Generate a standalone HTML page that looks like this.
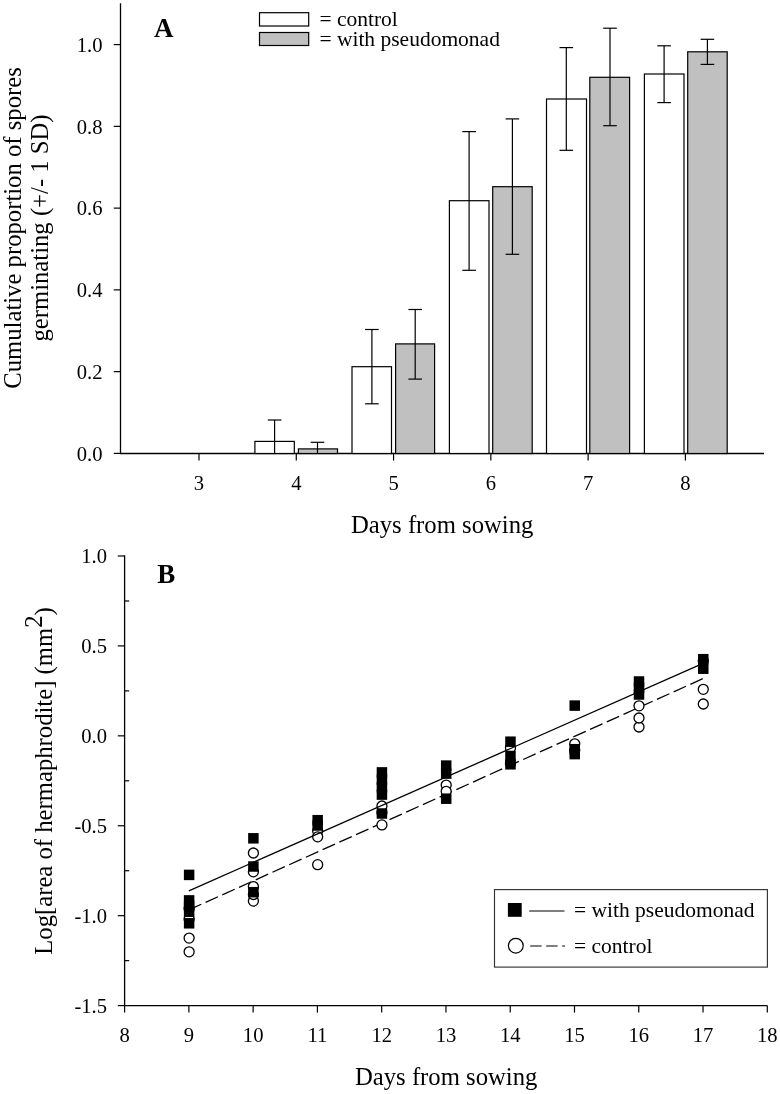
<!DOCTYPE html>
<html><head><meta charset="utf-8"><style>
html,body{margin:0;padding:0;background:#fff;}
svg{display:block;will-change:transform;}
text{font-family:"Liberation Serif", serif;fill:#000;}
.tk{font-size:20.6px;}
.lg{font-size:21.5px;}
.ti{font-size:24.7px;}
.pl{font-size:27px;font-weight:bold;}
</style></head><body>
<svg width="780" height="1094" viewBox="0 0 780 1094">
<rect width="780" height="1094" fill="#fff"/>
<line x1="120.5" y1="3.2" x2="120.5" y2="454.1" stroke="#000" stroke-width="1.3"/>
<line x1="119.9" y1="453.5" x2="764" y2="453.5" stroke="#000" stroke-width="1.4"/>
<line x1="113.8" y1="453.40" x2="120.5" y2="453.40" stroke="#000" stroke-width="1.2"/>
<text x="102.5" y="460.60" text-anchor="end" class="tk">0.0</text>
<line x1="113.8" y1="371.64" x2="120.5" y2="371.64" stroke="#000" stroke-width="1.2"/>
<text x="102.5" y="378.84" text-anchor="end" class="tk">0.2</text>
<line x1="113.8" y1="289.88" x2="120.5" y2="289.88" stroke="#000" stroke-width="1.2"/>
<text x="102.5" y="297.08" text-anchor="end" class="tk">0.4</text>
<line x1="113.8" y1="208.12" x2="120.5" y2="208.12" stroke="#000" stroke-width="1.2"/>
<text x="102.5" y="215.32" text-anchor="end" class="tk">0.6</text>
<line x1="113.8" y1="126.36" x2="120.5" y2="126.36" stroke="#000" stroke-width="1.2"/>
<text x="102.5" y="133.56" text-anchor="end" class="tk">0.8</text>
<line x1="113.8" y1="44.60" x2="120.5" y2="44.60" stroke="#000" stroke-width="1.2"/>
<text x="102.5" y="51.80" text-anchor="end" class="tk">1.0</text>
<line x1="199.00" y1="453.5" x2="199.00" y2="460.6" stroke="#000" stroke-width="1.2"/>
<text x="199.00" y="489.8" text-anchor="middle" class="tk">3</text>
<line x1="296.28" y1="453.5" x2="296.28" y2="460.6" stroke="#000" stroke-width="1.2"/>
<text x="296.28" y="489.8" text-anchor="middle" class="tk">4</text>
<line x1="393.56" y1="453.5" x2="393.56" y2="460.6" stroke="#000" stroke-width="1.2"/>
<text x="393.56" y="489.8" text-anchor="middle" class="tk">5</text>
<line x1="490.84" y1="453.5" x2="490.84" y2="460.6" stroke="#000" stroke-width="1.2"/>
<text x="490.84" y="489.8" text-anchor="middle" class="tk">6</text>
<line x1="588.12" y1="453.5" x2="588.12" y2="460.6" stroke="#000" stroke-width="1.2"/>
<text x="588.12" y="489.8" text-anchor="middle" class="tk">7</text>
<line x1="685.40" y1="453.5" x2="685.40" y2="460.6" stroke="#000" stroke-width="1.2"/>
<text x="685.40" y="489.8" text-anchor="middle" class="tk">8</text>
<rect x="254.90" y="441.40" width="39.40" height="12.10" fill="#fff" stroke="#000" stroke-width="1.2"/>
<rect x="298.40" y="448.90" width="39.10" height="4.60" fill="#c0c0c0" stroke="#000" stroke-width="1.2"/>
<rect x="352.00" y="366.70" width="39.50" height="86.80" fill="#fff" stroke="#000" stroke-width="1.2"/>
<rect x="395.60" y="343.90" width="39.00" height="109.60" fill="#c0c0c0" stroke="#000" stroke-width="1.2"/>
<rect x="449.40" y="200.70" width="39.60" height="252.80" fill="#fff" stroke="#000" stroke-width="1.2"/>
<rect x="492.70" y="186.70" width="39.50" height="266.80" fill="#c0c0c0" stroke="#000" stroke-width="1.2"/>
<rect x="546.50" y="99.00" width="40.00" height="354.50" fill="#fff" stroke="#000" stroke-width="1.2"/>
<rect x="589.80" y="77.30" width="39.80" height="376.20" fill="#c0c0c0" stroke="#000" stroke-width="1.2"/>
<rect x="644.40" y="74.00" width="39.60" height="379.50" fill="#fff" stroke="#000" stroke-width="1.2"/>
<rect x="687.70" y="51.80" width="39.50" height="401.70" fill="#c0c0c0" stroke="#000" stroke-width="1.2"/>
<line x1="274.60" y1="420.00" x2="274.60" y2="453.50" stroke="#000" stroke-width="1.2"/>
<line x1="267.80" y1="420.00" x2="281.40" y2="420.00" stroke="#000" stroke-width="1.2"/>
<line x1="317.50" y1="442.30" x2="317.50" y2="453.50" stroke="#000" stroke-width="1.2"/>
<line x1="310.70" y1="442.30" x2="324.30" y2="442.30" stroke="#000" stroke-width="1.2"/>
<line x1="371.90" y1="329.50" x2="371.90" y2="403.80" stroke="#000" stroke-width="1.2"/>
<line x1="365.10" y1="329.50" x2="378.70" y2="329.50" stroke="#000" stroke-width="1.2"/>
<line x1="365.10" y1="403.80" x2="378.70" y2="403.80" stroke="#000" stroke-width="1.2"/>
<line x1="415.20" y1="309.50" x2="415.20" y2="379.10" stroke="#000" stroke-width="1.2"/>
<line x1="408.40" y1="309.50" x2="422.00" y2="309.50" stroke="#000" stroke-width="1.2"/>
<line x1="408.40" y1="379.10" x2="422.00" y2="379.10" stroke="#000" stroke-width="1.2"/>
<line x1="469.10" y1="131.60" x2="469.10" y2="270.30" stroke="#000" stroke-width="1.2"/>
<line x1="462.30" y1="131.60" x2="475.90" y2="131.60" stroke="#000" stroke-width="1.2"/>
<line x1="462.30" y1="270.30" x2="475.90" y2="270.30" stroke="#000" stroke-width="1.2"/>
<line x1="512.40" y1="118.90" x2="512.40" y2="254.30" stroke="#000" stroke-width="1.2"/>
<line x1="505.60" y1="118.90" x2="519.20" y2="118.90" stroke="#000" stroke-width="1.2"/>
<line x1="505.60" y1="254.30" x2="519.20" y2="254.30" stroke="#000" stroke-width="1.2"/>
<line x1="566.30" y1="47.60" x2="566.30" y2="150.30" stroke="#000" stroke-width="1.2"/>
<line x1="559.50" y1="47.60" x2="573.10" y2="47.60" stroke="#000" stroke-width="1.2"/>
<line x1="559.50" y1="150.30" x2="573.10" y2="150.30" stroke="#000" stroke-width="1.2"/>
<line x1="610.00" y1="28.20" x2="610.00" y2="125.70" stroke="#000" stroke-width="1.2"/>
<line x1="603.20" y1="28.20" x2="616.80" y2="28.20" stroke="#000" stroke-width="1.2"/>
<line x1="603.20" y1="125.70" x2="616.80" y2="125.70" stroke="#000" stroke-width="1.2"/>
<line x1="664.10" y1="45.80" x2="664.10" y2="102.60" stroke="#000" stroke-width="1.2"/>
<line x1="657.30" y1="45.80" x2="670.90" y2="45.80" stroke="#000" stroke-width="1.2"/>
<line x1="657.30" y1="102.60" x2="670.90" y2="102.60" stroke="#000" stroke-width="1.2"/>
<line x1="707.40" y1="39.30" x2="707.40" y2="64.40" stroke="#000" stroke-width="1.2"/>
<line x1="700.60" y1="39.30" x2="714.20" y2="39.30" stroke="#000" stroke-width="1.2"/>
<line x1="700.60" y1="64.40" x2="714.20" y2="64.40" stroke="#000" stroke-width="1.2"/>
<rect x="259.5" y="12.7" width="49.2" height="13.3" fill="#fff" stroke="#000" stroke-width="1.2"/>
<rect x="259.5" y="32.5" width="49.2" height="13.0" fill="#c0c0c0" stroke="#000" stroke-width="1.2"/>
<text x="319.4" y="26.2" class="lg">= control</text>
<text x="319.4" y="45.5" class="lg">= with pseudomonad</text>
<text x="154" y="36.8" class="pl">A</text>
<text transform="translate(20.5,228) rotate(-90)" text-anchor="middle" class="ti">Cumulative proportion of spores</text>
<text transform="translate(48.3,228) rotate(-90)" text-anchor="middle" class="ti">germinating (+/- 1 SD)</text>
<text x="442.2" y="533.3" text-anchor="middle" class="ti">Days from sowing</text>
<line x1="124.6" y1="555.3" x2="124.6" y2="1006.2" stroke="#000" stroke-width="1.3"/>
<line x1="124.0" y1="1005.6" x2="767.3" y2="1005.6" stroke="#000" stroke-width="1.3"/>
<line x1="117.8" y1="556.00" x2="124.6" y2="556.00" stroke="#000" stroke-width="1.2"/>
<text x="107" y="563.20" text-anchor="end" class="tk">1.0</text>
<line x1="117.8" y1="645.92" x2="124.6" y2="645.92" stroke="#000" stroke-width="1.2"/>
<text x="107" y="653.12" text-anchor="end" class="tk">0.5</text>
<line x1="117.8" y1="735.84" x2="124.6" y2="735.84" stroke="#000" stroke-width="1.2"/>
<text x="107" y="743.04" text-anchor="end" class="tk">0.0</text>
<line x1="117.8" y1="825.76" x2="124.6" y2="825.76" stroke="#000" stroke-width="1.2"/>
<text x="107" y="832.96" text-anchor="end" class="tk">-0.5</text>
<line x1="117.8" y1="915.68" x2="124.6" y2="915.68" stroke="#000" stroke-width="1.2"/>
<text x="107" y="922.88" text-anchor="end" class="tk">-1.0</text>
<line x1="117.8" y1="1005.60" x2="124.6" y2="1005.60" stroke="#000" stroke-width="1.2"/>
<text x="107" y="1012.80" text-anchor="end" class="tk">-1.5</text>
<line x1="124.6" y1="600.96" x2="129.2" y2="600.96" stroke="#000" stroke-width="1.2"/>
<line x1="124.6" y1="690.88" x2="129.2" y2="690.88" stroke="#000" stroke-width="1.2"/>
<line x1="124.6" y1="780.80" x2="129.2" y2="780.80" stroke="#000" stroke-width="1.2"/>
<line x1="124.6" y1="870.72" x2="129.2" y2="870.72" stroke="#000" stroke-width="1.2"/>
<line x1="124.6" y1="960.64" x2="129.2" y2="960.64" stroke="#000" stroke-width="1.2"/>
<line x1="124.60" y1="1005.6" x2="124.60" y2="1012.6" stroke="#000" stroke-width="1.2"/>
<text x="124.60" y="1042" text-anchor="middle" class="tk">8</text>
<line x1="188.87" y1="1005.6" x2="188.87" y2="1012.6" stroke="#000" stroke-width="1.2"/>
<text x="188.87" y="1042" text-anchor="middle" class="tk">9</text>
<line x1="253.14" y1="1005.6" x2="253.14" y2="1012.6" stroke="#000" stroke-width="1.2"/>
<text x="253.14" y="1042" text-anchor="middle" class="tk">10</text>
<line x1="317.41" y1="1005.6" x2="317.41" y2="1012.6" stroke="#000" stroke-width="1.2"/>
<text x="317.41" y="1042" text-anchor="middle" class="tk">11</text>
<line x1="381.68" y1="1005.6" x2="381.68" y2="1012.6" stroke="#000" stroke-width="1.2"/>
<text x="381.68" y="1042" text-anchor="middle" class="tk">12</text>
<line x1="445.95" y1="1005.6" x2="445.95" y2="1012.6" stroke="#000" stroke-width="1.2"/>
<text x="445.95" y="1042" text-anchor="middle" class="tk">13</text>
<line x1="510.22" y1="1005.6" x2="510.22" y2="1012.6" stroke="#000" stroke-width="1.2"/>
<text x="510.22" y="1042" text-anchor="middle" class="tk">14</text>
<line x1="574.49" y1="1005.6" x2="574.49" y2="1012.6" stroke="#000" stroke-width="1.2"/>
<text x="574.49" y="1042" text-anchor="middle" class="tk">15</text>
<line x1="638.76" y1="1005.6" x2="638.76" y2="1012.6" stroke="#000" stroke-width="1.2"/>
<text x="638.76" y="1042" text-anchor="middle" class="tk">16</text>
<line x1="703.03" y1="1005.6" x2="703.03" y2="1012.6" stroke="#000" stroke-width="1.2"/>
<text x="703.03" y="1042" text-anchor="middle" class="tk">17</text>
<line x1="767.30" y1="1005.6" x2="767.30" y2="1012.6" stroke="#000" stroke-width="1.2"/>
<text x="767.30" y="1042" text-anchor="middle" class="tk">18</text>
<line x1="188.87" y1="909.86" x2="703.03" y2="678.59" stroke="#000" stroke-width="1.3" stroke-dasharray="13.6 4.73"/>
<circle cx="189.12" cy="908.30" r="5.0" fill="#fff" stroke="#000" stroke-width="1.3"/>
<circle cx="189.12" cy="919.00" r="5.0" fill="#fff" stroke="#000" stroke-width="1.3"/>
<circle cx="189.12" cy="938.10" r="5.0" fill="#fff" stroke="#000" stroke-width="1.3"/>
<circle cx="189.12" cy="951.80" r="5.0" fill="#fff" stroke="#000" stroke-width="1.3"/>
<circle cx="253.39" cy="853.00" r="5.0" fill="#fff" stroke="#000" stroke-width="1.3"/>
<circle cx="253.39" cy="871.80" r="5.0" fill="#fff" stroke="#000" stroke-width="1.3"/>
<circle cx="253.39" cy="901.10" r="5.0" fill="#fff" stroke="#000" stroke-width="1.3"/>
<circle cx="253.39" cy="894.50" r="5.0" fill="#fff" stroke="#000" stroke-width="1.3"/>
<circle cx="253.39" cy="886.60" r="5.0" fill="#fff" stroke="#000" stroke-width="1.3"/>
<circle cx="317.66" cy="831.00" r="5.0" fill="#fff" stroke="#000" stroke-width="1.3"/>
<circle cx="317.66" cy="836.80" r="5.0" fill="#fff" stroke="#000" stroke-width="1.3"/>
<circle cx="317.66" cy="864.70" r="5.0" fill="#fff" stroke="#000" stroke-width="1.3"/>
<circle cx="381.93" cy="812.50" r="5.0" fill="#fff" stroke="#000" stroke-width="1.3"/>
<circle cx="381.93" cy="806.00" r="5.0" fill="#fff" stroke="#000" stroke-width="1.3"/>
<circle cx="381.93" cy="824.90" r="5.0" fill="#fff" stroke="#000" stroke-width="1.3"/>
<circle cx="446.20" cy="785.10" r="5.0" fill="#fff" stroke="#000" stroke-width="1.3"/>
<circle cx="446.20" cy="791.30" r="5.0" fill="#fff" stroke="#000" stroke-width="1.3"/>
<circle cx="510.47" cy="748.00" r="5.0" fill="#fff" stroke="#000" stroke-width="1.3"/>
<circle cx="510.47" cy="763.40" r="5.0" fill="#fff" stroke="#000" stroke-width="1.3"/>
<circle cx="574.74" cy="750.00" r="5.0" fill="#fff" stroke="#000" stroke-width="1.3"/>
<circle cx="574.74" cy="743.80" r="5.0" fill="#fff" stroke="#000" stroke-width="1.3"/>
<circle cx="639.01" cy="727.00" r="5.0" fill="#fff" stroke="#000" stroke-width="1.3"/>
<circle cx="639.01" cy="718.00" r="5.0" fill="#fff" stroke="#000" stroke-width="1.3"/>
<circle cx="639.01" cy="705.80" r="5.0" fill="#fff" stroke="#000" stroke-width="1.3"/>
<circle cx="703.28" cy="660.80" r="5.0" fill="#fff" stroke="#000" stroke-width="1.3"/>
<circle cx="703.28" cy="689.30" r="5.0" fill="#fff" stroke="#000" stroke-width="1.3"/>
<circle cx="703.28" cy="704.00" r="5.0" fill="#fff" stroke="#000" stroke-width="1.3"/>
<rect x="183.87" y="869.65" width="10.5" height="10.5" fill="#000"/>
<rect x="183.87" y="895.15" width="10.5" height="10.5" fill="#000"/>
<rect x="183.87" y="900.75" width="10.5" height="10.5" fill="#000"/>
<rect x="183.87" y="906.55" width="10.5" height="10.5" fill="#000"/>
<rect x="183.87" y="918.05" width="10.5" height="10.5" fill="#000"/>
<rect x="248.14" y="833.05" width="10.5" height="10.5" fill="#000"/>
<rect x="248.14" y="861.25" width="10.5" height="10.5" fill="#000"/>
<rect x="248.14" y="886.95" width="10.5" height="10.5" fill="#000"/>
<rect x="312.41" y="814.95" width="10.5" height="10.5" fill="#000"/>
<rect x="312.41" y="820.25" width="10.5" height="10.5" fill="#000"/>
<rect x="376.68" y="767.15" width="10.5" height="10.5" fill="#000"/>
<rect x="376.68" y="774.45" width="10.5" height="10.5" fill="#000"/>
<rect x="376.68" y="782.05" width="10.5" height="10.5" fill="#000"/>
<rect x="376.68" y="789.35" width="10.5" height="10.5" fill="#000"/>
<rect x="376.68" y="808.25" width="10.5" height="10.5" fill="#000"/>
<rect x="440.95" y="760.35" width="10.5" height="10.5" fill="#000"/>
<rect x="440.95" y="768.35" width="10.5" height="10.5" fill="#000"/>
<rect x="440.95" y="793.45" width="10.5" height="10.5" fill="#000"/>
<rect x="505.22" y="736.45" width="10.5" height="10.5" fill="#000"/>
<rect x="505.22" y="750.75" width="10.5" height="10.5" fill="#000"/>
<rect x="505.22" y="759.05" width="10.5" height="10.5" fill="#000"/>
<rect x="569.49" y="700.35" width="10.5" height="10.5" fill="#000"/>
<rect x="569.49" y="743.95" width="10.5" height="10.5" fill="#000"/>
<rect x="569.49" y="748.85" width="10.5" height="10.5" fill="#000"/>
<rect x="633.76" y="676.25" width="10.5" height="10.5" fill="#000"/>
<rect x="633.76" y="682.75" width="10.5" height="10.5" fill="#000"/>
<rect x="633.76" y="689.25" width="10.5" height="10.5" fill="#000"/>
<rect x="698.03" y="653.95" width="10.5" height="10.5" fill="#000"/>
<rect x="698.03" y="663.45" width="10.5" height="10.5" fill="#000"/>
<line x1="188.87" y1="890.81" x2="703.03" y2="663.40" stroke="#000" stroke-width="1.3"/>
<rect x="494.5" y="889.6" width="272.9" height="77.5" fill="#fff" stroke="#333" stroke-width="1.15"/>
<rect x="507.9" y="903.0" width="13.8" height="13.8" fill="#000"/>
<line x1="529.2" y1="911" x2="564.5" y2="911" stroke="#000" stroke-width="1.1"/>
<circle cx="515.8" cy="945.7" r="7.4" fill="#fff" stroke="#000" stroke-width="1.2"/>
<line x1="530.2" y1="946" x2="565" y2="946" stroke="#000" stroke-width="1.1" stroke-dasharray="11.4 4.6"/>
<text x="574" y="916.6" class="lg">= with pseudomonad</text>
<text x="574" y="952.6" class="lg">= control</text>
<text x="157.3" y="583.2" class="pl">B</text>
<text transform="translate(52.4,781) rotate(-90)" text-anchor="middle" class="ti">Log[area of hermaphrodite] (mm<tspan dy="-10.3">2</tspan><tspan dy="10.3">)</tspan></text>
<text x="446.2" y="1085.3" text-anchor="middle" class="ti">Days from sowing</text>
</svg>
</body></html>
